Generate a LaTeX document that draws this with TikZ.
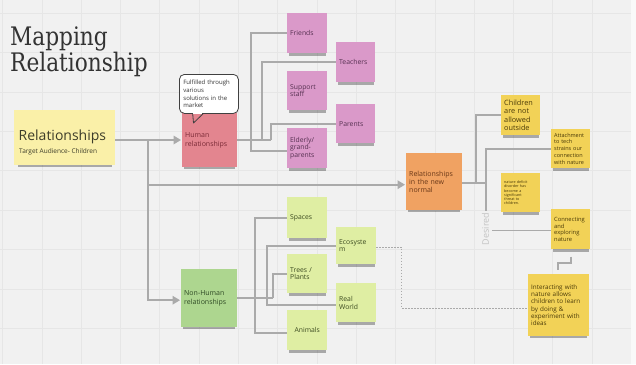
\documentclass[tikz,border=0pt]{standalone}
\usepackage{fontspec}
\setmainfont{Open Sans}
\newfontfamily\titlefont[FakeStretch=0.85]{DejaVu Serif}
\usetikzlibrary{arrows.meta,shadows,calc}
\definecolor{bg}{HTML}{F1F1F1}
\definecolor{gridc}{HTML}{E6E6E6}
\definecolor{conn}{HTML}{AAAAAA}
\definecolor{titlec}{HTML}{333333}
\definecolor{mainy}{HTML}{FAF0A8}
\definecolor{maint}{HTML}{3D3D2A}
\definecolor{humanr}{HTML}{E3858F}
\definecolor{humant}{HTML}{7A2A36}
\definecolor{pinkn}{HTML}{DA99C9}
\definecolor{pinkt}{HTML}{553050}
\definecolor{nhg}{HTML}{ADD68F}
\definecolor{nht}{HTML}{2F4A25}
\definecolor{lgreen}{HTML}{DFEEA3}
\definecolor{lgt}{HTML}{3B4A20}
\definecolor{orangen}{HTML}{F0A262}
\definecolor{oranget}{HTML}{6A3818}
\definecolor{yel}{HTML}{F2D257}
\definecolor{yelt}{HTML}{4A3A08}
\definecolor{desc}{HTML}{C2C2C2}
\tikzset{
  wh/.code 2 args={\pgfmathsetmacro\tw{#1-6}\edef\tmp{\noexpand\tikzset{minimum width=#1pt,minimum height=#2pt,text width=\tw pt}}\tmp},
  note/.style={rectangle, anchor=north west, inner xsep=3pt, inner ysep=0pt, align=left,
    general shadow={fill=black, opacity=.3, shadow yshift=-4.5pt, shadow scale=.93},
    font=\fontsize{6.8}{7.7}\selectfont},
  pinknote/.style={note, fill=pinkn, text=pinkt},
  greennote/.style={note, fill=lgreen, text=lgt},
  yelnote/.style={note, fill=yel, text=yelt},
  conline/.style={draw=conn, line width=1.7pt},
  arr/.style={conline, -{Triangle[length=7.5pt,width=8.5pt]}, shorten >=1pt},
  dotline/.style={draw=conn, line width=1.3pt, dash pattern=on 1.3pt off 1.7pt},
}
\begin{document}
\begin{tikzpicture}[x=1pt,y=-1pt]
\useasboundingbox (0,0) rectangle (636,364);
\fill[bg] (0,0) rectangle (636,364);
\foreach \i in {0,...,16} \draw[gridc, line width=0.6pt] ({2.5+39.3*\i},0) -- ({2.5+39.3*\i},364);
\foreach \j in {0,...,9} \draw[gridc, line width=0.6pt] (0,{13+39.4*\j}) -- (636,{13+39.4*\j});
\fill[white!60!bg] (631,0) rectangle (636,364);

% title
\node[anchor=base west, inner sep=0, font=\titlefont\fontsize{25.5}{26}\selectfont, text=titlec] (t1) at (10,45) {Mapping};
\node[anchor=base west, inner sep=0, font=\titlefont\fontsize{25.5}{26}\selectfont, text=titlec] (t2) at (10,71) {Relationship};

% main
\node[note, fill=mainy, wh={101}{55}] (main) at (14,110) {};
\node[anchor=base west, inner sep=0, font=\fontsize{14}{16}\selectfont, text=maint] (mainlab) at (18.5,140.5) {Relationships};
\node[anchor=base west, inner sep=0, font=\fontsize{6.5}{8}\selectfont, text=maint] (mainsub) at (19,153.3) {Target Audience- Children};

% human
\node[note, fill=humanr, text=humant, wh={55}{54}, font=\fontsize{7}{8.3}\selectfont] (human) at (182,113) {Human\\relationships};
\node[rectangle, anchor=north west, draw=black!75, line width=0.8pt, fill=white, rounded corners=5pt,
  inner xsep=4pt, inner ysep=0pt, align=left, minimum height=39pt, text width=51pt,
  font=\fontsize{6}{7.8}\selectfont, text=black!80] (bub) at (179,74) {Fulfilled through\\various\\solutions in the\\market};
\fill[white] ($(bub.south west)+(14.2,-0.8)$) rectangle ($(bub.south west)+(23.4,0.3)$);
\draw[black!75, line width=0.8pt, line join=round] ($(bub.south west)+(13.7,0)$) -- (193.5,123) -- ($(bub.south west)+(24,0)$);

\node[pinknote, wh={40}{40}] (friends) at (287,13) {Friends};
\node[pinknote, wh={39}{40}] (teachers) at (336,42) {Teachers};
\node[pinknote, wh={40}{39}] (support) at (287,71) {Support\\staff};
\node[pinknote, wh={39}{39}] (parents) at (336,104) {Parents};
\node[pinknote, wh={40}{40}] (elderly) at (287,128) {Elderly/\\grand-\\parents};

% non human
\node[note, fill=nhg, text=nht, wh={56}{58}, font=\fontsize{7}{8.3}\selectfont] (nonhuman) at (181,269) {Non-Human\\relationships};
\node[greennote, wh={40}{41}] (spaces) at (287,197) {Spaces};
\node[greennote, wh={40}{37}] (ecosystem) at (336,227) {Ecosyste\\m};
\node[greennote, wh={40}{39}] (trees) at (287,254) {Trees /\\Plants};
\node[greennote, wh={40}{39}] (realworld) at (336,283) {Real\\World};
\node[greennote, wh={40}{40}, align=center] (animals) at (287,310) {Animals};

% new normal
\node[note, fill=orangen, text=oranget, wh={56}{57}, font=\fontsize{7}{7.7}\selectfont] (newnormal) at (406,153) {Relationships\\in the new\\normal};
\node[yelnote, wh={39}{40}, font=\fontsize{7.3}{8.3}\selectfont] (children) at (501,95) {Children\\are not\\allowed\\outside};
\node[yelnote, wh={39}{39}, font=\fontsize{5.5}{6.8}\selectfont] (attach) at (551,129) {Attachment\\to tech\\strains our\\connection\\with nature};
\node[yelnote, wh={39}{39}, font=\fontsize{3.7}{4.1}\selectfont] (deficit) at (501,173) {nature deficit\\disorder has\\become a\\significant\\threat to\\children.\\[6pt]};
\node[yelnote, wh={39}{40}, font=\fontsize{5.8}{6.5}\selectfont] (connecting) at (551,209) {Connecting\\and\\exploring\\nature};
\node[yelnote, wh={61}{62}, font=\fontsize{6.3}{7.2}\selectfont] (interacting) at (528,274) {Interacting with\\nature allows\\children to learn\\by doing \&\\experiment with\\ideas};

\node[rotate=90, inner sep=0, font=\fontsize{9}{10}\selectfont, text=desc] (desired) at (485.5,229) {Desired};

% connectors: trunk
\coordinate (j1) at (147.7,140);
\draw[arr] (main.east |- j1) -- (human.west |- j1);
\draw[arr] (j1) |- ($(newnormal.west)+(0,3)$);
\draw[arr] (j1) |- ($(nonhuman.west)+(0,2)$);

% human tree
\coordinate (hv1) at (250.7,151);
\coordinate (hv2) at (261.7,140);
\coordinate (hv3) at (270.7,140);
\draw[conline] (human.east |- hv3) -- (hv3);
\draw[conline] (friends.west) -| (hv1) -- (elderly.west |- hv1);
\draw[conline] (teachers.west) -| (hv2);
\draw[conline] (parents.west) -| (hv3);

% non-human tree
\coordinate (nv1) at (255,332.7);
\coordinate (nv2) at (266.7,305);
\coordinate (nv3) at (273.3,298);
\draw[conline] (nonhuman.east |- nv3) -- (nv3);
\draw[conline] (spaces.west) -| (nv1) -- (animals.west |- nv1);
\draw[conline] (ecosystem.west) -| (nv2) -- (realworld.west |- nv2);
\draw[conline] (trees.west) -| (nv3);

% new normal tree
\coordinate (rv1) at (475.7,183);
\coordinate (rv2) at (485.7,183);
\coordinate (dtop) at (485.7,211);
\draw[conline] (newnormal.east |- rv2) -- (rv2);
\draw[conline] (children.west) -| (rv1);
\draw[conline] (attach.west) -| (dtop);
\coordinate (dc) at (492,230.5);
\draw[conline] (dc) -- (connecting.west |- dc);
\coordinate (s1) at (570.7,256.5);
\coordinate (s2) at (558.3,270);
\draw[conline] (s1) -- ++(0,6.8) -| (s2);

% dotted
\coordinate (dv) at (401.7,308.3);
\draw[dotline] (ecosystem.east) ++(0,1.5) -| (dv) -- (interacting.west |- dv);
\end{tikzpicture}
\end{document}
